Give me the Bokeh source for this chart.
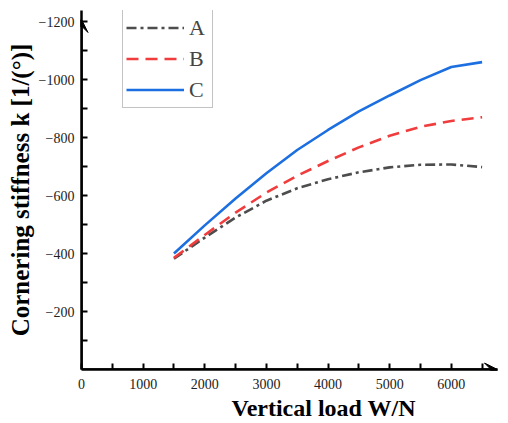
from bokeh.plotting import figure
from bokeh.models import Range1d, FixedTicker, Arrow, VeeHead, Legend, LegendItem, Title
from bokeh.embed import file_html
from bokeh.resources import INLINE

# ---- data ----
load = [1500, 2000, 2500, 3000, 3500, 4000, 4500, 5000, 5500, 6000, 6500]
series_A = [-382, -455, -524, -582, -625, -656, -680, -697, -706, -707, -698]
series_B = [-385, -464, -541, -610, -668, -719, -766, -806, -837, -857, -870]
series_C = [-400, -497, -590, -677, -757, -826, -890, -945, -998, -1043, -1060]
names = ["A", "B", "C"]
x_ticks = [0, 1000, 2000, 3000, 4000, 5000, 6000]
x_minor = [500, 1500, 2500, 3500, 4500, 5500, 6500]
y_ticks = [-200, -400, -600, -800, -1000, -1200]
y_minor = [-100, -300, -500, -700, -900, -1100]
x_label = "Vertical load W/N"
y_label = "Cornering stiffness k [1/(\u00b0)]"

FONT = "Liberation Serif"

p = figure(frame_width=416, frame_height=359, output_backend="svg", toolbar_location=None,
           x_range=Range1d(0, 6750), y_range=Range1d(0, -1238),
           min_border_left=81, min_border_right=2, min_border_top=10, min_border_bottom=0)
p.grid.visible = False
p.outline_line_color = None
p.background_fill_color = "white"

rA = p.line(load, series_A, line_color="#4d4d4d", line_width=2.6, line_dash="10 4 3 4")
rB = p.line(load, series_B, line_color="#f03c3c", line_width=2.6, line_dash="12 7")
rC = p.line(load, series_C, line_color="#1c6fe0", line_width=2.6)

legend = Legend(items=[LegendItem(label=names[0], renderers=[rA]),
                       LegendItem(label=names[1], renderers=[rB]),
                       LegendItem(label=names[2], renderers=[rC])],
                location=(41, 261))
legend.label_text_font = FONT
legend.label_text_font_size = "22px"
legend.glyph_width = 58
legend.glyph_height = 29
legend.label_height = 29
legend.label_standoff = 5
legend.spacing = 2
legend.padding = 3
legend.margin = 0
legend.border_line_color = "#888888"
legend.border_line_width = 1
legend.background_fill_alpha = 1
p.add_layout(legend)

for ax in (p.xaxis[0], p.yaxis[0]):
    ax.axis_line_width = 2.5
    ax.axis_line_color = "black"
    ax.major_tick_in = 6
    ax.major_tick_out = 0
    ax.minor_tick_in = 6
    ax.minor_tick_out = 0
    ax.major_tick_line_width = 2
    ax.minor_tick_line_width = 2
    ax.major_label_text_font = FONT
    ax.major_label_text_font_size = "14px"
    ax.major_label_text_color = "#222222"
    ax.axis_label_text_font = FONT
    ax.axis_label_text_font_style = "bold"
    ax.axis_label_text_color = "black"

p.yaxis.axis_label_text_font_size = "25px"
p.xaxis.ticker = FixedTicker(ticks=x_ticks, minor_ticks=x_minor)
p.yaxis.ticker = FixedTicker(ticks=y_ticks, minor_ticks=y_minor)
p.yaxis.major_label_overrides = {t: "\u2212" + str(abs(t)) for t in y_ticks}
p.xaxis.major_label_standoff = 9
p.yaxis.major_label_standoff = 7
p.yaxis.axis_label = y_label
p.yaxis.axis_label_standoff = 2

p.add_layout(Title(text=x_label, align="left", offset=150, standoff=3,
                   text_font=FONT, text_font_style="bold", text_font_size="24px",
                   text_color="black"), "below")

p.add_layout(Arrow(end=VeeHead(size=13, fill_color="black", line_color="black"),
                   x_start=0, y_start=0, x_end=6750, y_end=0, line_width=2.5))
p.add_layout(Arrow(end=VeeHead(size=13, fill_color="black", line_color="black"),
                   x_start=0, y_start=0, x_end=0, y_end=-1207, line_width=2.5))

open("out.html", "w").write(file_html(p, INLINE))
